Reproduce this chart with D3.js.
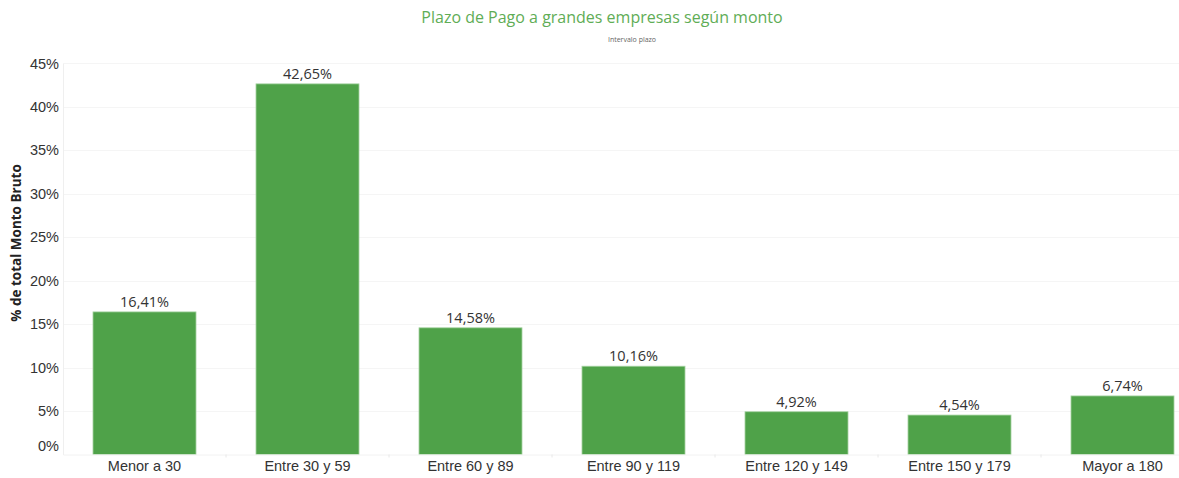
<!DOCTYPE html>
<html lang="es">
<head>
<meta charset="UTF-8" />
<title>Plazo de Pago</title>
<style>
  body { margin: 0; background: #fff; }
  svg { display: block; font-family: "Open Sans", "Noto Sans", sans-serif; }
  .tick text { fill: #333; }
</style>
</head>
<body>
<div class="chart"></div>
<script src="https://cdn.jsdelivr.net/npm/d3@7"></script>
<script>
var categories = ["Menor a 30", "Entre 30 y 59", "Entre 60 y 89", "Entre 90 y 119",
                  "Entre 120 y 149", "Entre 150 y 179", "Mayor a 180"];
var values = [16.41, 42.65, 14.58, 10.16, 4.92, 4.54, 6.74];
var yTicks = [0, 5, 10, 15, 20, 25, 30, 35, 40, 45];

var width = 1179, height = 478;
var left = 63, base = 454.5;

var svg = d3.select(".chart").append("svg")
  .attr("width", width)
  .attr("height", height);

// title
svg.append("text")
  .attr("x", 602).attr("y", 23)
  .attr("text-anchor", "middle")
  .attr("fill", "#5fad56")
  .style("font-size", "16px")
  .text("Plazo de Pago a grandes empresas según monto");

svg.append("text")
  .attr("x", 632).attr("y", 42)
  .attr("text-anchor", "middle")
  .attr("fill", "#666")
  .style("font-size", "7px")
  .text("Intervalo plazo");

var x = d3.scaleBand()
  .domain(categories)
  .range([left, left + 7 * 163])
  .paddingInner(0.368)
  .paddingOuter(0.184);

var y = d3.scaleLinear()
  .domain([0, 45])
  .range([base, base - 45 * 8.69]);

// gridlines
svg.append("g")
  .selectAll("line")
  .data(yTicks.filter(function(d){ return d > 0; }))
  .enter().append("line")
  .attr("x1", left).attr("x2", width)
  .attr("y1", function(d){ return Math.round(y(d)) + 0.5; })
  .attr("y2", function(d){ return Math.round(y(d)) + 0.5; })
  .attr("stroke", "#f5f5f5");

// y axis
var yAxis = svg.append("g")
  .attr("transform", "translate(" + left + ",0)")
  .call(d3.axisLeft(y).tickValues(yTicks).tickSize(0).tickPadding(4)
    .tickFormat(function(d){ return d + "%"; }));
yAxis.select(".domain").attr("stroke", "#efefef");
yAxis.selectAll("text").style("font-size", "14.5px")
  .attr("dy", function(d){ return d === 0 ? "-0.25em" : "0.32em"; });

svg.append("text")
  .attr("transform", "translate(21," + 243 + ") rotate(-90)")
  .attr("text-anchor", "middle")
  .attr("fill", "#222")
  .style("font-size", "13.5px")
  .style("font-weight", "bold")
  .text("% de total Monto Bruto");

// bars
svg.append("g")
  .selectAll("rect")
  .data(values)
  .enter().append("rect")
  .attr("x", function(d, i){ return x(categories[i]); })
  .attr("y", function(d){ return y(d); })
  .attr("width", x.bandwidth())
  .attr("height", function(d){ return base - y(d); })
  .attr("fill", "#4fa249")
  .attr("stroke", "#a8d4a4")
  .attr("stroke-width", 0.8);

// value labels
svg.append("g")
  .selectAll("text")
  .data(values)
  .enter().append("text")
  .attr("x", function(d, i){ return x(categories[i]) + x.bandwidth() / 2; })
  .attr("y", function(d){ return y(d) - 5; })
  .attr("text-anchor", "middle")
  .attr("fill", "#333")
  .style("font-size", "14.5px")
  .text(function(d){ return d.toFixed(2).replace(".", ",") + "%"; });

// x axis
var xAxis = svg.append("g")
  .attr("transform", "translate(0," + base + ")")
  .call(d3.axisBottom(x).tickSize(0).tickPadding(6));
xAxis.select(".domain").attr("stroke", "#f2f2f2");
xAxis.selectAll("text").style("font-size", "14.5px").attr("fill", "#222");

// faint separators between categories
svg.append("g")
  .selectAll("line")
  .data(categories.slice(1))
  .enter().append("line")
  .attr("x1", function(d){ return x(d) - x.step() * x.paddingInner() / 2; })
  .attr("x2", function(d){ return x(d) - x.step() * x.paddingInner() / 2; })
  .attr("y1", base).attr("y2", base + 3)
  .attr("stroke", "#e8e8e8");
</script>
</body>
</html>
